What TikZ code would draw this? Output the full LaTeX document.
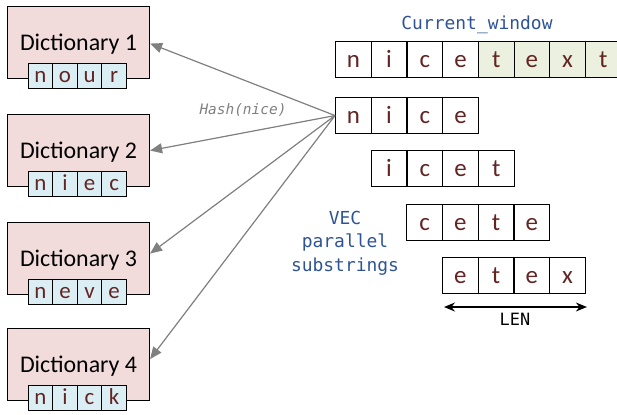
\documentclass[tikz,border=0pt]{standalone}
\usepackage{fontspec}
\setmainfont{Carlito}
\newfontfamily\codefont{DejaVu Sans Mono}
\usetikzlibrary{arrows.meta}

\definecolor{dictfill}{HTML}{F2DCDB}
\definecolor{keyfill}{HTML}{DBEEF4}
\definecolor{tailfill}{HTML}{EBF1DE}
\definecolor{letter}{HTML}{632523}
\definecolor{labelblue}{HTML}{2F5496}
\definecolor{arrowgray}{HTML}{808080}

\tikzset{
  dictbox/.style={draw=black, line width=1.1bp, fill=dictfill, anchor=north west,
    minimum width=142bp, minimum height=72bp, inner sep=0pt,
    font=\fontsize{24}{24}\selectfont, text height=16bp, text depth=0pt},
  keycell/.style={draw=black, line width=1.1bp, fill=keyfill, anchor=north west,
    minimum width=24.6bp, minimum height=25bp, inner sep=0pt, text=letter,
    font=\fontsize{23}{23}\selectfont, text height=13.4bp, text depth=0pt},
  strcell/.style={draw=black, line width=1.1bp, fill=white, anchor=north west,
    minimum width=35.7bp, minimum height=36bp, inner sep=0pt, text=letter,
    font=\fontsize{25}{25}\selectfont, text height=15bp, text depth=0pt},
  hasharrow/.style={draw=arrowgray, line width=1.2bp,
    -{Triangle[length=12bp,width=10bp]}, fill=arrowgray},
  codelabel/.style={font=\codefont\fontsize{18}{23.5}\selectfont, text=labelblue,
    inner sep=0pt}
}

\begin{document}
\begin{tikzpicture}[x=1bp,y=-1bp]
\useasboundingbox (0,0) rectangle (617,414);

% dictionaries with their stored keys
\foreach \i/\top/\keys in {1/6/{n,o,u,r}, 2/114/{n,i,e,c}, 3/222/{n,e,v,e}, 4/328/{n,i,c,k}} {
  \node[dictbox] (d\i) at (7,\top) {Dictionary \i};
  \foreach \ch [count=\k from 0] in \keys {
    \node[keycell] (d\i k\k) at ({27.5+24.6*\k},{\top+57}) {\ch};
  }
}

% current window
\node[codelabel] (cw) at (477,25) {Current\_window};
\foreach \ch [count=\k from 0] in {n,i,c,e} {
  \node[strcell] (w\k) at ({335+35.7*\k},41) {\ch};
}
\foreach \ch [count=\k from 4] in {t,e,x,t} {
  \node[strcell, fill=tailfill] (w\k) at ({335+35.7*\k},41) {\ch};
}

% parallel substrings
\foreach \r/\x/\y/\chars in {a/335/97/{n,i,c,e}, b/370.7/150/{i,c,e,t}, c/406.3/204/{c,e,t,e}, d/442/257/{e,t,e,x}} {
  \foreach \ch [count=\k from 0] in \chars {
    \node[strcell] (s\r\k) at ({\x+35.7*\k},\y) {\ch};
  }
}

% hashing the first substring into each dictionary
\draw[hasharrow] (sa0.west) -- ([yshift=-1bp]d1.east);
\draw[hasharrow] (sa0.west) -- (d2.east);
\draw[hasharrow] (sa0.west) -- ([yshift=5bp]d3.east);
\draw[hasharrow] (sa0.west) -- ([yshift=5.5bp]d4.east);
\node[font=\codefont\itshape\fontsize{14.5}{14.5}\selectfont, text=arrowgray, inner sep=0pt]
  (hash) at (243,110) {Hash(nice)};

\node[codelabel, align=center] (vec) at (345,243) {VEC\\parallel\\substrings};

% substring length
\coordinate (lenL) at (sd0.south west |- 0,307);
\coordinate (lenR) at (sd3.south east |- 0,307);
\draw[line width=1.1bp, {Stealth[length=11bp,width=9bp]}-{Stealth[length=11bp,width=9bp]}]
  ([xshift=2bp]lenL) -- ([xshift=1bp]lenR);
\node[font=\codefont\fontsize{17}{17}\selectfont, inner sep=0pt] (len) at (515,319) {LEN};
\end{tikzpicture}
\end{document}
